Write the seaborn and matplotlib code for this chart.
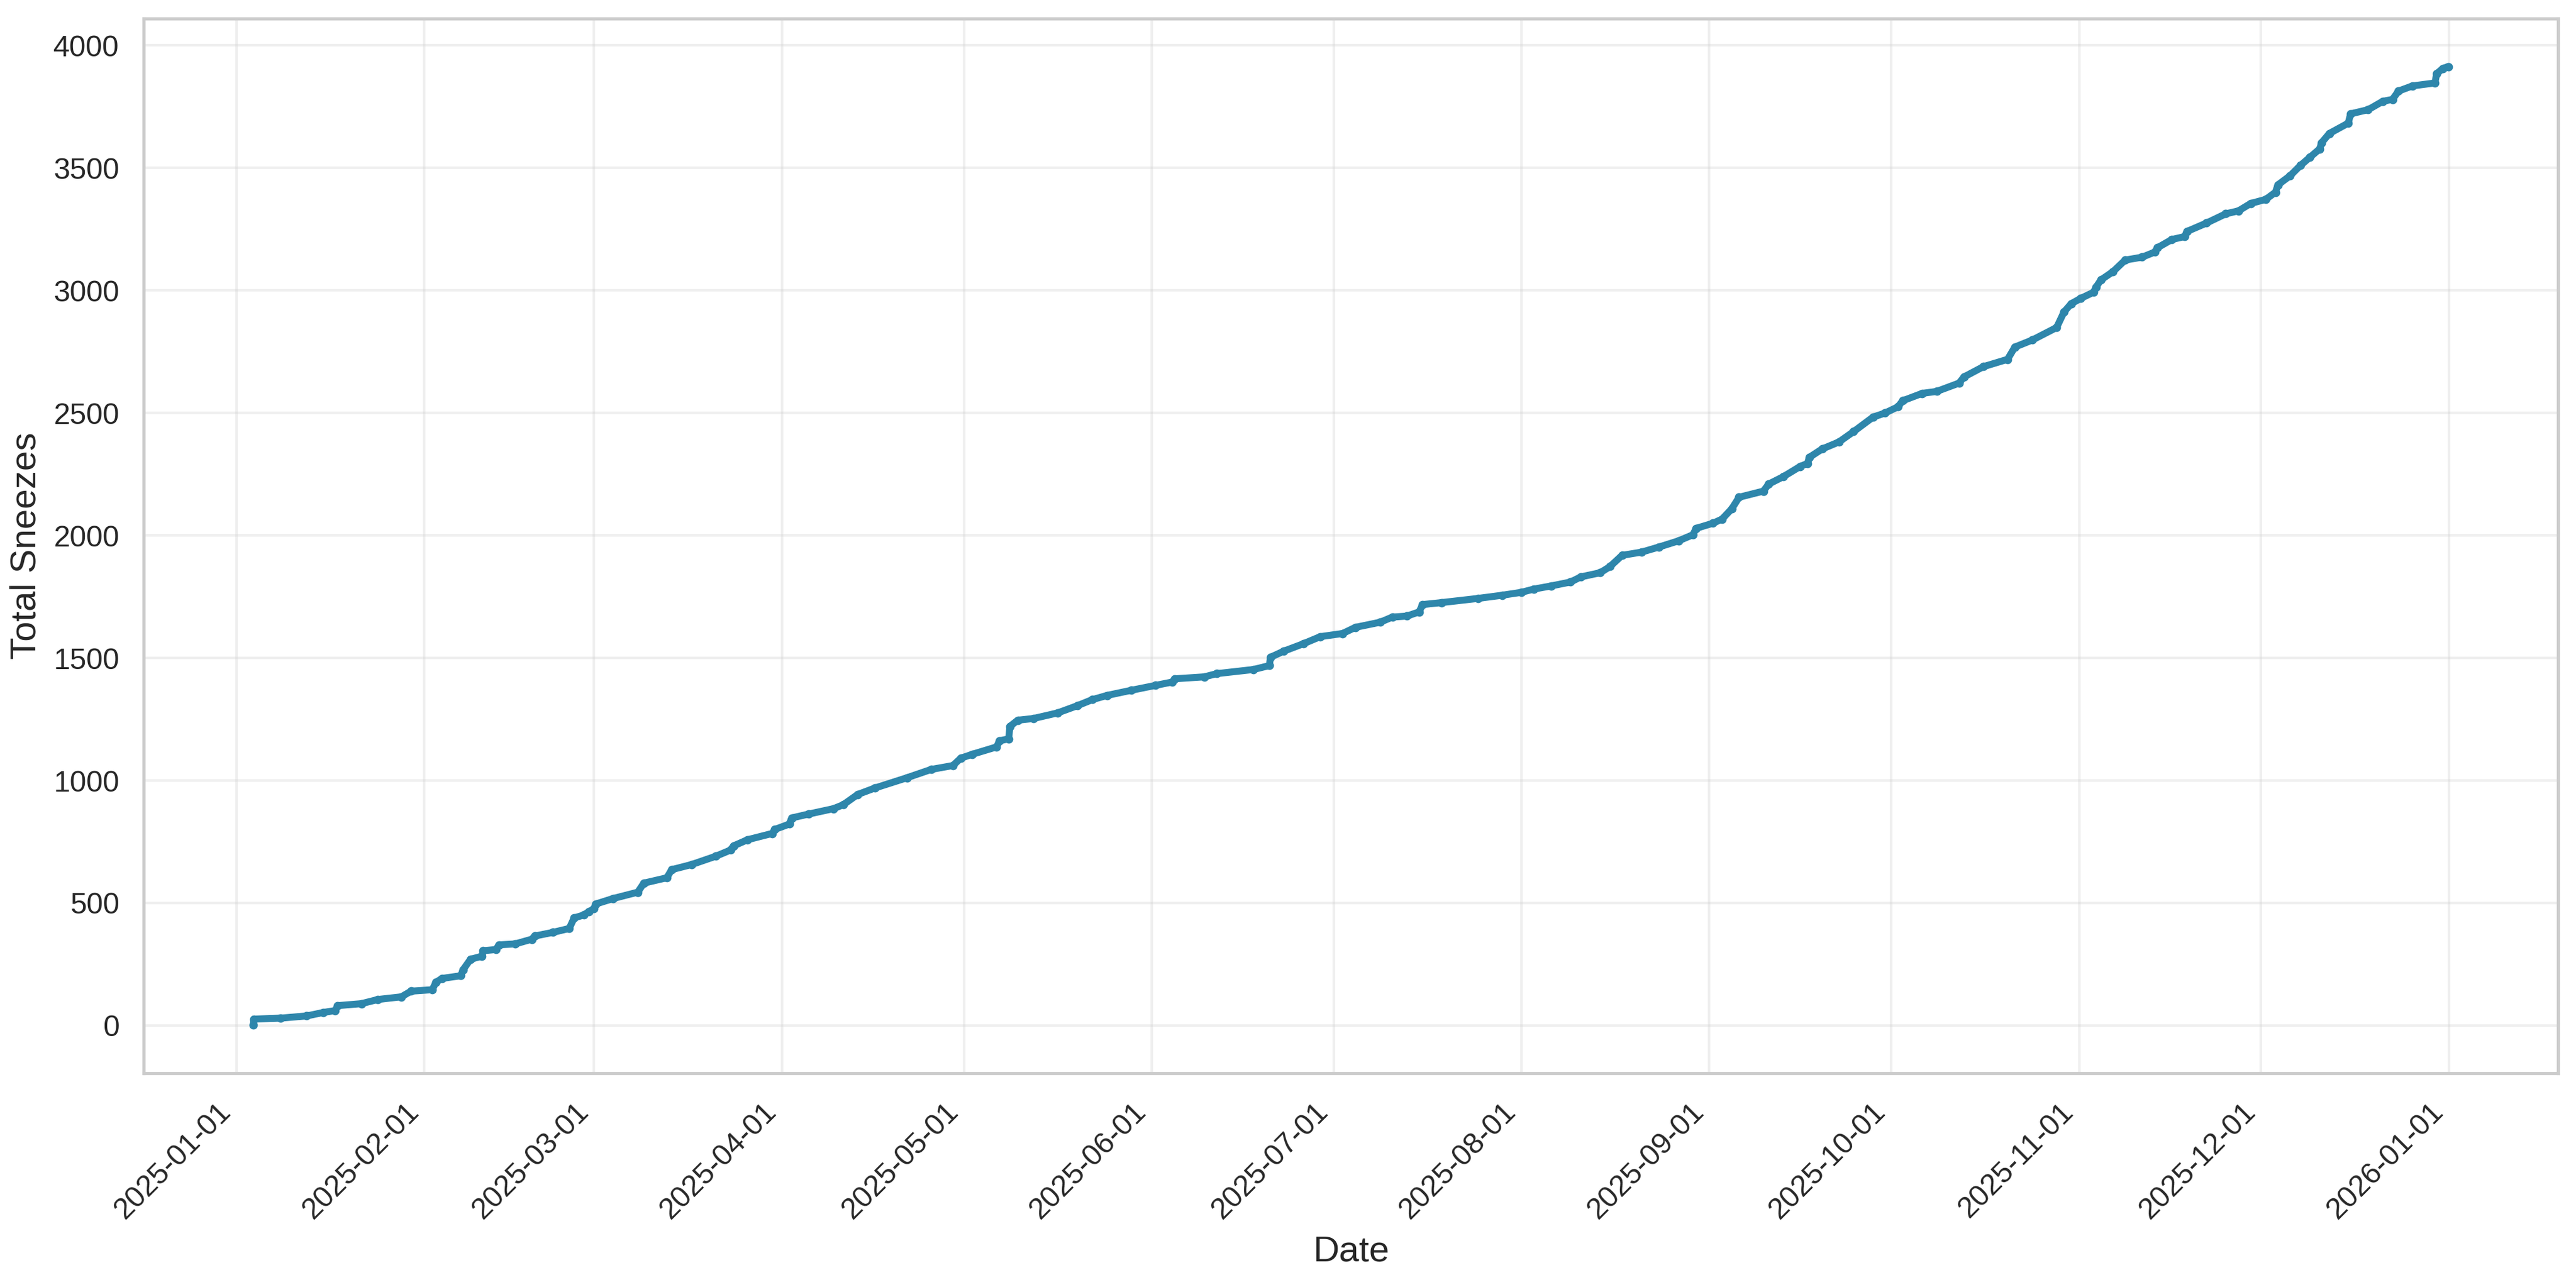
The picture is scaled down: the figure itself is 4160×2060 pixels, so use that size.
import matplotlib
matplotlib.use("Agg")
import matplotlib.pyplot as plt
import matplotlib.dates as mdates
import seaborn as sns
import pandas as pd

# Days since 2025-01-01 00:00 (fractional) of each reading
day_offsets = [
    2.80, 2.85, 7.3, 11.6, 14.3, 16.3, 16.7, 20.6, 23.3, 27.2, 28.8, 32.3, 32.9, 33.9,
    37.0, 37.4, 38.6, 40.5, 40.7, 42.8, 43.3, 46.0, 48.7, 49.2, 52.2, 54.9, 55.7, 57.3,
    58.1, 59.0, 59.3, 62.1, 66.2, 67.2, 71.0, 71.8, 75.1, 79.1, 81.5, 82.0, 84.3, 88.4,
    88.8, 91.2, 91.6, 94.4, 98.5, 100.1, 102.5, 105.3, 110.6, 114.6, 118.2, 119.5, 121.4,
    125.4, 125.9, 127.4, 127.6, 128.9, 131.5, 135.5, 138.7, 141.2, 143.6, 147.6, 151.6,
    154.4, 154.8, 159.7, 161.7, 167.8, 170.4, 170.6, 172.8, 176.0, 178.8, 182.5,
    184.6, 188.7, 190.7, 193.1, 195.1, 195.7, 198.8, 204.8, 208.8, 212.0, 214.0, 216.9,
    220.1, 221.8, 225.0, 226.6, 228.6, 231.8, 234.7, 237.9, 240.3, 240.8, 243.6,
    245.1, 246.7, 247.9, 251.9, 252.8, 255.2, 258.0, 259.2, 259.5, 261.6, 264.4, 266.8,
    270.0, 272.0, 274.1, 274.9, 278.1, 280.5, 284.2, 285.0, 288.2, 292.2, 293.4, 296.3,
    300.3, 301.5, 302.7, 304.3, 306.4, 306.8, 307.6, 309.6, 311.6, 314.4, 316.5, 316.9,
    319.3, 321.4, 321.8, 325.0, 328.2, 330.3, 332.3, 334.8, 336.4, 336.8, 338.8, 340.5,
    342.1, 343.7, 344.0, 345.3, 348.4, 348.8, 351.7, 354.1, 355.7, 356.7, 359.0, 362.7,
    363.0, 364.0, 364.9,
]

# Cumulative sneeze count at each reading
total_sneezes = [
    1, 26, 30, 39, 53, 61, 81, 89, 106, 117, 140, 146, 176, 192,
    203, 228, 270, 283, 305, 310, 329, 333, 352, 365, 380, 396, 439, 451,
    464, 477, 496, 518, 544, 581, 603, 636, 657, 691, 716, 733, 758, 784,
    800, 822, 847, 863, 885, 901, 943, 969, 1011, 1045, 1061, 1091, 1107,
    1137, 1162, 1170, 1221, 1246, 1253, 1276, 1305, 1330, 1347, 1368, 1388,
    1402, 1415, 1423, 1436, 1453, 1469, 1503, 1528, 1558, 1587, 1600,
    1625, 1646, 1667, 1671, 1688, 1718, 1726, 1743, 1756, 1768, 1781, 1794,
    1810, 1831, 1848, 1873, 1919, 1932, 1953, 1978, 2003, 2029, 2050,
    2067, 2109, 2156, 2181, 2210, 2240, 2282, 2294, 2319, 2353, 2382, 2424,
    2483, 2500, 2525, 2550, 2580, 2588, 2622, 2647, 2689, 2719, 2769, 2798,
    2849, 2912, 2946, 2968, 2993, 3014, 3043, 3077, 3124, 3136, 3157, 3174,
    3208, 3220, 3241, 3275, 3313, 3325, 3355, 3372, 3401, 3431, 3468, 3510,
    3544, 3578, 3603, 3641, 3683, 3721, 3738, 3772, 3780, 3814, 3835, 3847,
    3885, 3906, 3914,
]

start_date = "2025-01-01"
x_label = "Date"
y_label = "Total Sneezes"
line_color = "#2E86AB"

sns.set_theme(style="whitegrid")
plt.rcParams["font.family"] = ["Liberation Sans", "DejaVu Sans"]

df = pd.DataFrame({
    "Date": pd.Timestamp(start_date) + pd.to_timedelta(day_offsets, unit="D"),
    "Total": total_sneezes,
})

fig = plt.figure(figsize=(4160 / 300, 2060 / 300), dpi=300)
ax = fig.add_axes([0.0558, 0.1583, 0.9372, 0.8271])

sns.lineplot(data=df, x="Date", y="Total", ax=ax, color=line_color,
             linewidth=2.7, estimator=None, sort=False,
             marker="o", markersize=3.3, markeredgewidth=0)
for ln in ax.lines:
    ln.set_solid_capstyle("round")
    ln.set_solid_joinstyle("round")

ax.xaxis.set_major_locator(mdates.MonthLocator())
ax.xaxis.set_major_formatter(mdates.DateFormatter("%Y-%m-%d"))
plt.setp(ax.get_xticklabels(), rotation=45, ha="right")
ax.tick_params(axis="both", labelsize=11.5, colors="#262626")

ax.set_xlabel(x_label, fontsize=14)
ax.set_ylabel(y_label, fontsize=14)
ax.grid(True, alpha=0.3)

fig.savefig("out.png", dpi=300)
